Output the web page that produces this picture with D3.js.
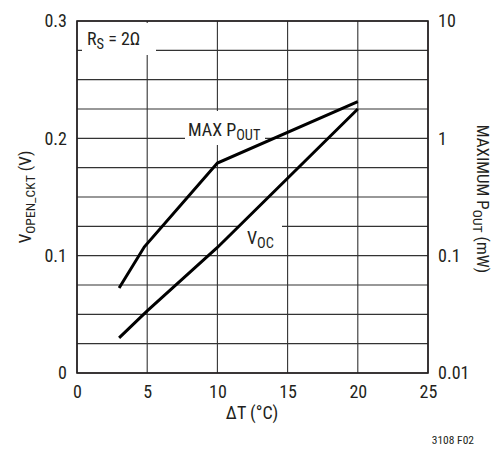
<!DOCTYPE html>
<html><head><meta charset="utf-8">
<script src="https://cdn.jsdelivr.net/npm/d3@7"></script>
<style>
html,body{margin:0;padding:0;background:#fff;}
svg text{font-family:"Liberation Sans Narrow","Arial Narrow","Roboto Condensed",sans-serif;fill:#231f20;}
</style></head>
<body><svg id="c" width="494" height="449"></svg>
<script>
// Data
const tempX = [3, 4.8, 10, 20];           // ΔT (°C) for MAX POUT
const maxPout = [0.053, 0.119, 0.616, 2.06]; // mW (right log axis)
const tempV = [3, 5, 10, 15, 20];         // ΔT (°C) for VOC
const voc = [0.030, 0.053, 0.107, 0.166, 0.225]; // V (left axis)
const xTicks = [0, 5, 10, 15, 20, 25];
const yTicks = [0, 0.1, 0.2, 0.3];
const yTickLabels = ["0", "0.1", "0.2", "0.3"];
const rTicks = [0.01, 0.1, 1, 10];
const rTickLabels = ["0.01", "0.1", "1", "10"];

const svg = d3.select("#c");
const L = 77, R = 428, T = 21, B = 373;
const x = d3.scaleLinear().domain([0, 25]).range([L, R]);
const y = d3.scaleLinear().domain([0, 0.3]).range([B, T]);
const yr = d3.scaleLog().domain([0.01, 10]).range([B, T]);

// grid
const g = svg.append("g");
const hGrid = d3.range(0, 13).map(i => i * 0.025);
g.selectAll(".hg").data(hGrid).join("line")
  .attr("x1", L).attr("x2", R)
  .attr("y1", d => y(d)).attr("y2", d => y(d))
  .attr("stroke", "#333").attr("stroke-width", 1.1);
g.selectAll(".vg").data(xTicks).join("line")
  .attr("x1", d => x(d)).attr("x2", d => x(d))
  .attr("y1", T).attr("y2", B)
  .attr("stroke", "#333").attr("stroke-width", 1.1);

// label backgrounds
svg.append("rect").attr("x", 82).attr("y", 23).attr("width", 74).attr("height", 32).attr("fill", "#fff");
svg.append("rect").attr("x", 185).attr("y", 111).attr("width", 80).attr("height", 34).attr("fill", "#fff");
svg.append("rect").attr("x", 240).attr("y", 228).attr("width", 42).attr("height", 22).attr("fill", "#fff");
svg.append("rect").attr("x", 240).attr("y", 212).attr("width", 42).attr("height", 24).attr("fill", "#fff");

// border
svg.append("rect").attr("x", L).attr("y", T).attr("width", R - L).attr("height", B - T)
  .attr("fill", "none").attr("stroke", "#231f20").attr("stroke-width", 1.6);

// axes (labels only)
const axL = d3.axisLeft(y).tickValues(yTicks).tickFormat((d, i) => yTickLabels[i]).tickSize(0).tickPadding(10);
const gl = svg.append("g").attr("transform", `translate(${L},0)`).call(axL);
const axR = d3.axisRight(yr).tickValues(rTicks).tickFormat((d, i) => rTickLabels[i]).tickSize(0).tickPadding(10);
const gr = svg.append("g").attr("transform", `translate(${R},0)`).call(axR);
const axB = d3.axisBottom(x).tickValues(xTicks).tickFormat(d3.format("d")).tickSize(0).tickPadding(12);
const gb = svg.append("g").attr("transform", `translate(0,${B})`).call(axB);
[gl, gr, gb].forEach(a => {
  a.select(".domain").remove();
  a.selectAll("text").attr("font-size", 18).attr("fill", "#231f20")
    .attr("font-family", '"Liberation Sans Narrow","Arial Narrow",sans-serif');
});

// lines
const lp = d3.line().x(d => x(d[0])).y(d => yr(d[1]));
svg.append("path").attr("d", lp(tempX.map((t, i) => [t, maxPout[i]])))
  .attr("fill", "none").attr("stroke", "#000").attr("stroke-width", 3);
const lv = d3.line().x(d => x(d[0])).y(d => y(d[1]));
svg.append("path").attr("d", lv(tempV.map((t, i) => [t, voc[i]])))
  .attr("fill", "none").attr("stroke", "#000").attr("stroke-width", 3);

// text helpers
function sub(t, main, s, size) {
  t.append("tspan").text(main);
  t.append("tspan").attr("font-size", size * 0.8).attr("dy", 4).text(s);
}
let t1 = svg.append("text").attr("x", 87).attr("y", 45).attr("font-size", 18);
sub(t1, "R", "S", 18);
t1.append("tspan").attr("dy", -4).text(" = 2Ω");

let t2 = svg.append("text").attr("x", 188).attr("y", 136).attr("font-size", 18);
sub(t2, "MAX P", "OUT", 18);

let t3 = svg.append("text").attr("x", 247).attr("y", 244).attr("font-size", 18);
sub(t3, "V", "OC", 18);

// axis titles
let ty = svg.append("text").attr("transform", "translate(31,197) rotate(-90)")
  .attr("text-anchor", "middle").attr("font-size", 17);
sub(ty, "V", "OPEN_CKT", 17);
ty.append("tspan").attr("dy", -4).text(" (V)");

let tr = svg.append("text").attr("transform", "translate(477,199) rotate(90)")
  .attr("text-anchor", "middle").attr("font-size", 17);
tr.append("tspan").text("MAXIMUM P");
tr.append("tspan").attr("font-size", 13.6).attr("dy", 4).text("OUT");
tr.append("tspan").attr("dy", -4).text(" (mW)");

svg.append("text").attr("x", 252).attr("y", 419).attr("text-anchor", "middle")
  .attr("font-size", 18).text("ΔT (°C)");
svg.append("text").attr("x", 474).attr("y", 444).attr("text-anchor", "end")
  .attr("font-size", 11.5).text("3108 F02");
</script></body></html>
